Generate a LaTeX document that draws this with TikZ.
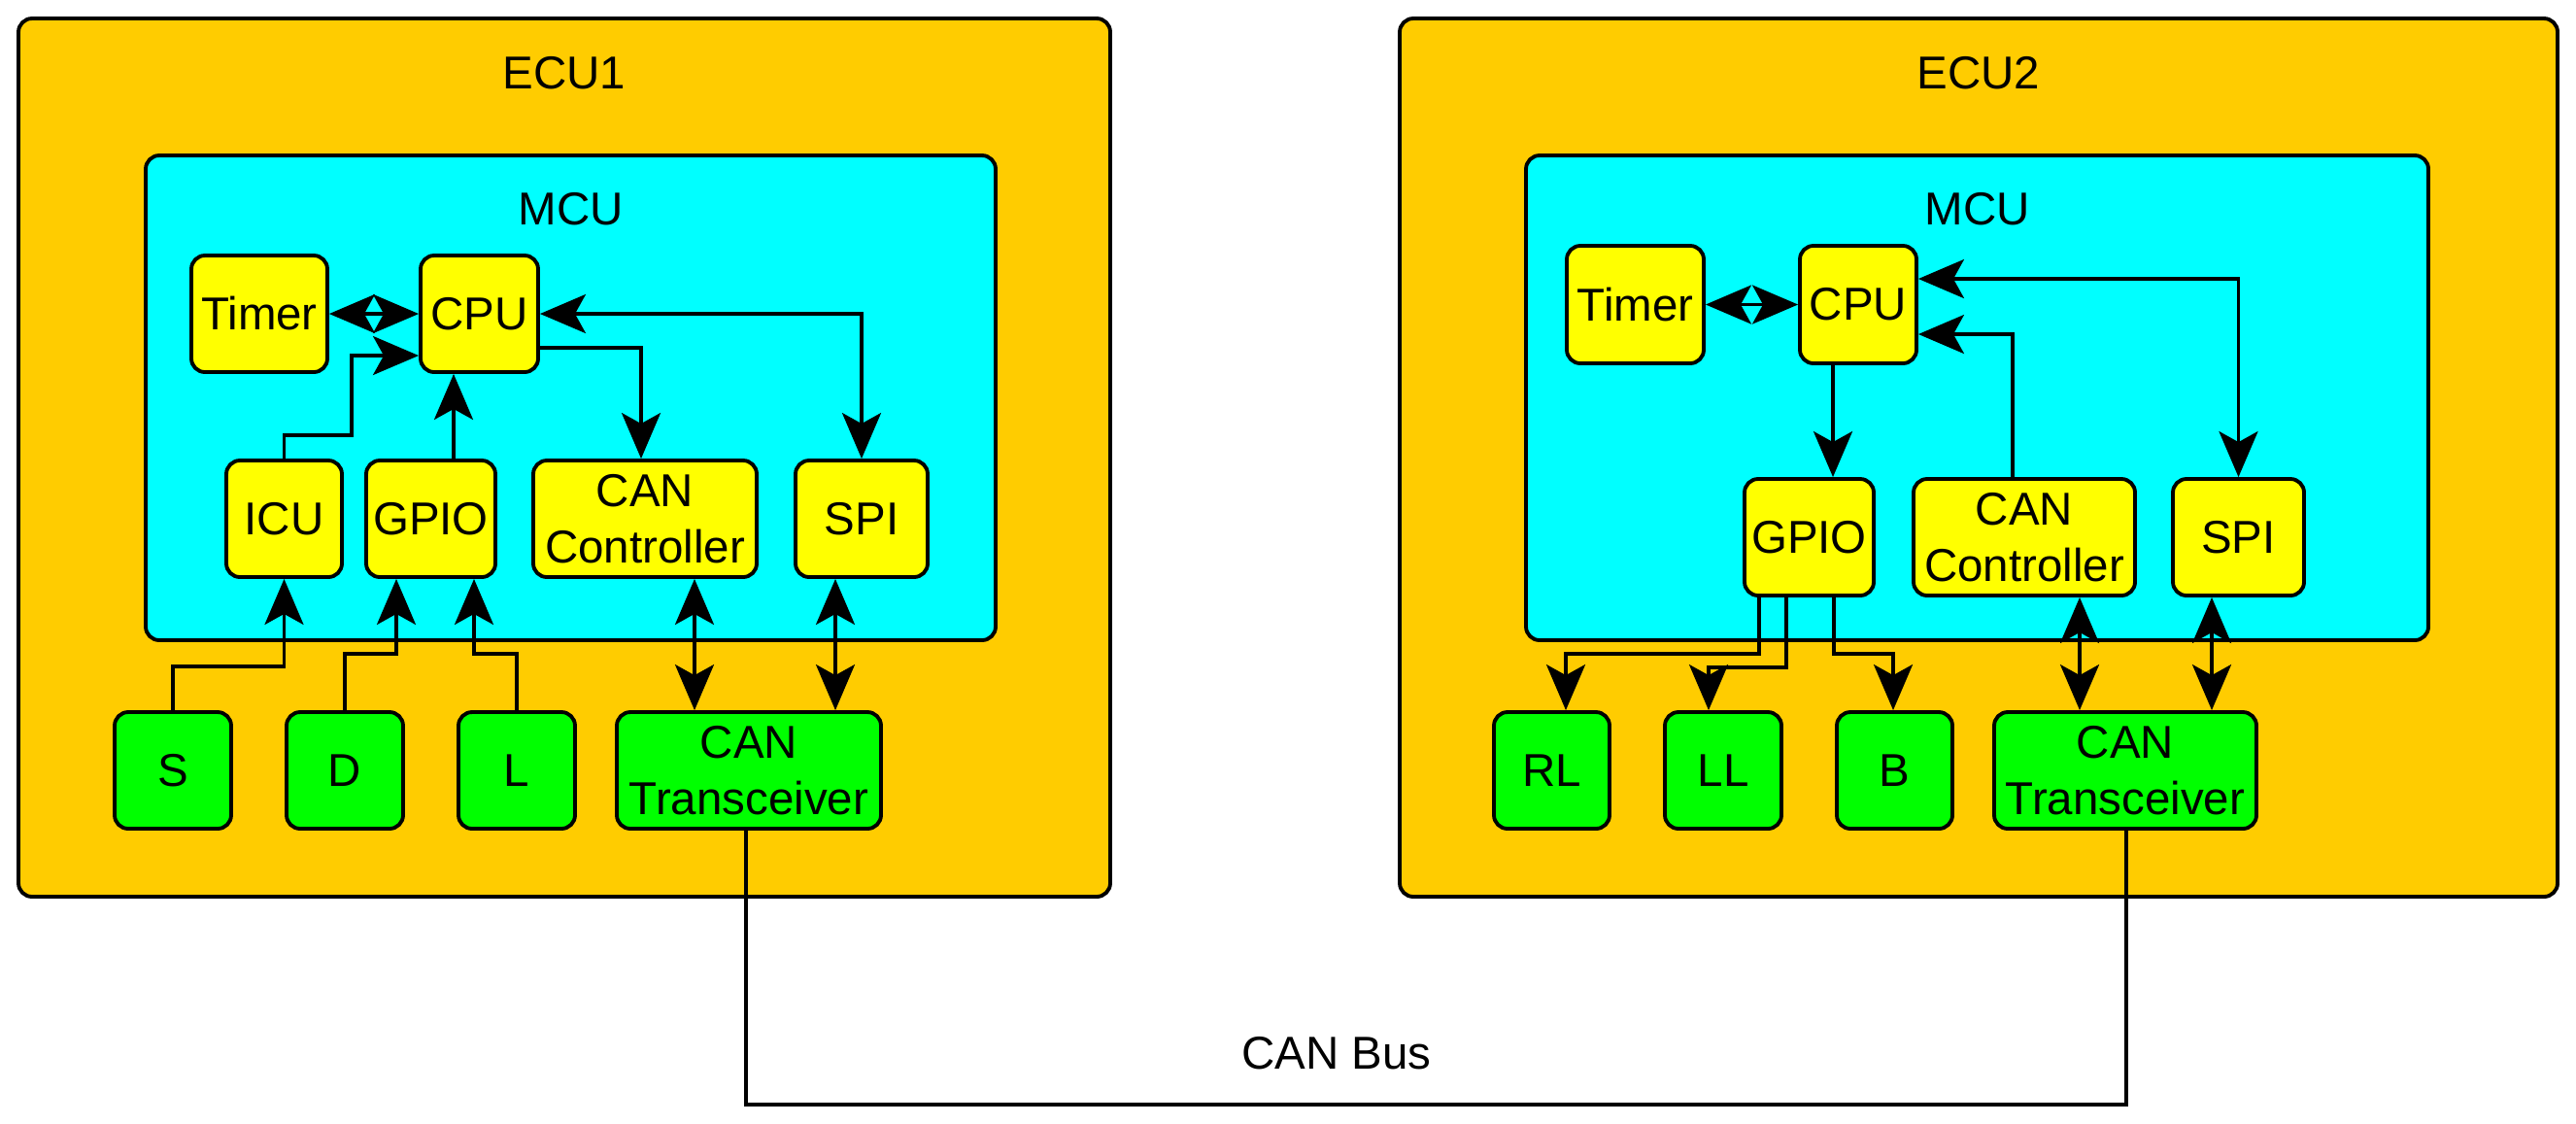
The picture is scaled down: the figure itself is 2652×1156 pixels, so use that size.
\documentclass[tikz,border=0pt]{standalone}
\usepackage{fontspec}
\setmainfont{Liberation Sans}
\usetikzlibrary{arrows.meta}
\definecolor{ecucol}{HTML}{FFCC00}
\definecolor{mcucol}{HTML}{00FFFF}
\definecolor{blkcol}{HTML}{FFFF00}
\definecolor{devcol}{HTML}{00FF00}
\newcommand\bx[7]{\node[#6, minimum width={(#4-#2)*0.01cm}, minimum height={(#5-#3)*0.01cm}] (#1) at ({(#2+#4)/2},{(#3+#5)/2}) {#7};}
\begin{document}
\begin{tikzpicture}[x=0.01cm, y=-0.01cm, font=\fontsize{13.5pt}{16.5pt}\selectfont,
  box/.style={draw=black, line width=1.1pt, rounded corners=0.14cm, inner sep=2pt, align=center},
  ecubox/.style={box, fill=ecucol},
  mcubox/.style={box, fill=mcucol},
  blkbox/.style={box, fill=blkcol},
  devbox/.style={box, fill=devcol},
  conn/.style={line width=0.95pt, draw=black},
  arr/.style={conn, -{Stealth[length=4.7mm, width=4mm, inset=1.1mm]}},
  darr/.style={conn, {Stealth[length=4.7mm, width=4mm, inset=1.1mm]}-{Stealth[length=4.7mm, width=4mm, inset=1.1mm]}},
  lbl/.style={inner sep=0pt}]
\useasboundingbox (0,0) rectangle (2652,1156);
% containers
\bx{ECUa}{19}{19}{1143}{923}{ecubox}{}
\bx{ECUb}{1441}{19}{2633}{923}{ecubox}{}
\node[lbl] (ECUaL) at (581,75) {ECU1};
\node[lbl] (ECUbL) at (2037,75) {ECU2};
\bx{MCUa}{150}{160}{1025}{659}{mcubox}{}
\bx{MCUb}{1571}{160}{2500}{659}{mcubox}{}
\node[lbl] (MCUaL) at (588,215) {MCU};
\node[lbl] (MCUbL) at (2036,215) {MCU};
% ECU1 blocks
\bx{TIMa}{197}{263}{337}{383}{blkbox}{Timer}
\bx{CPUa}{433}{263}{554}{383}{blkbox}{CPU}
\bx{ICUa}{233}{474}{352}{594}{blkbox}{ICU}
\bx{GPIOa}{377}{474}{510}{594}{blkbox}{GPIO}
\bx{CANCa}{549}{474}{779}{594}{blkbox}{CAN\\Controller}
\bx{SPIa}{819}{474}{955}{594}{blkbox}{SPI}
\bx{S}{118}{733}{238}{853}{devbox}{S}
\bx{D}{295}{733}{415}{853}{devbox}{D}
\bx{L}{472}{733}{592}{853}{devbox}{L}
\bx{CANTa}{635}{733}{907}{853}{devbox}{CAN\\Transceiver}
% ECU2 blocks
\bx{TIMb}{1613}{253}{1754}{374}{blkbox}{Timer}
\bx{CPUb}{1853}{253}{1973}{374}{blkbox}{CPU}
\bx{GPIOb}{1796}{493}{1929}{613}{blkbox}{GPIO}
\bx{CANCb}{1970}{493}{2198}{613}{blkbox}{CAN\\Controller}
\bx{SPIb}{2237}{493}{2372}{613}{blkbox}{SPI}
\bx{RL}{1538}{733}{1657}{853}{devbox}{RL}
\bx{LL}{1714}{733}{1834}{853}{devbox}{LL}
\bx{B}{1891}{733}{2010}{853}{devbox}{B}
\bx{CANTb}{2053}{733}{2323}{853}{devbox}{CAN\\Transceiver}
% ECU1 connectors
\draw[darr] (TIMa.east) -- (CPUa.west);
\draw[arr] (ICUa.north) |- (362,448) -- (362,366) -- (CPUa.west |- 0,366);
\draw[arr] (GPIOa.north -| 467,0) -- (CPUa.south -| 467,0);
\draw[darr] (CPUa.east) -| (SPIa.north);
\draw[arr] (CPUa.east |- 0,358) -| (CANCa.north -| 660,0);
\draw[arr] (S.north) |- (ICUa.south |- 0,686) -- (ICUa.south);
\draw[arr] (D.north) |- (408,673) -- (GPIOa.south -| 408,0);
\draw[arr] (L.north) |- (488,673) -- (GPIOa.south -| 488,0);
\draw[darr] (CANCa.south -| 715,0) -- (CANTa.north -| 715,0);
\draw[darr] (SPIa.south -| 860,0) -- (CANTa.north -| 860,0);
% ECU2 connectors
\draw[darr] (TIMb.east) -- (CPUb.west);
\draw[darr] (CPUb.east |- 0,287) -| (SPIb.north);
\draw[arr] (CANCb.north -| 2072,0) |- (CPUb.east |- 0,344);
\draw[arr] (CPUb.south -| 1887,0) -- (GPIOb.north -| 1887,0);
\draw[arr] (GPIOb.south -| 1811,0) |- (1612,673) -- (RL.north -| 1612,0);
\draw[arr] (GPIOb.south -| 1839,0) |- (1759,687) -- (LL.north -| 1759,0);
\draw[arr] (GPIOb.south -| 1888,0) |- (1949,673) -- (B.north -| 1949,0);
\draw[darr] (CANCb.south -| 2141,0) -- (CANTb.north -| 2141,0);
\draw[darr] (SPIb.south -| 2277,0) -- (CANTb.north -| 2277,0);
% CAN bus
\draw[conn] (CANTa.south -| 768,0) |- (2189,1137) -- (CANTb.south -| 2189,0);
\node[lbl] (BUSL) at (1376,1084) {CAN Bus};
\end{tikzpicture}
\end{document}
